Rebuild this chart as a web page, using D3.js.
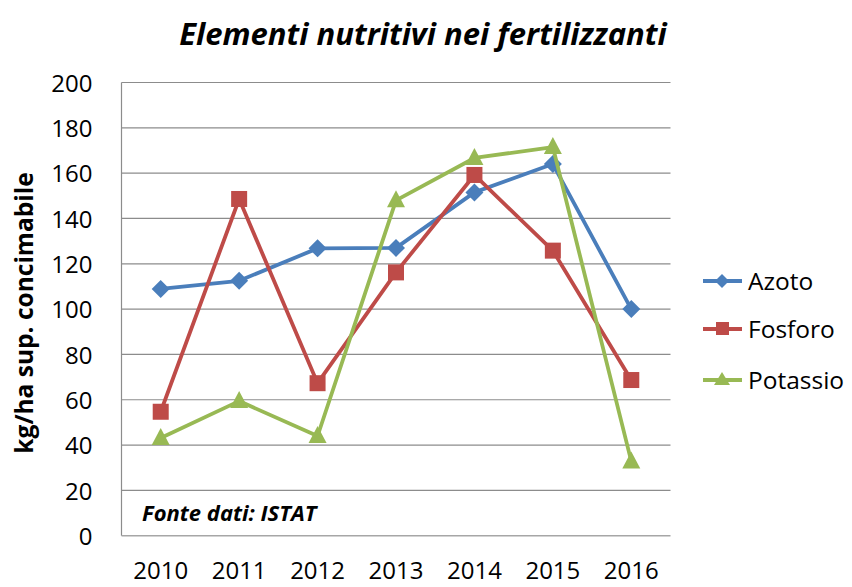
<!DOCTYPE html>
<html><head><meta charset="utf-8">
<script src="https://cdn.jsdelivr.net/npm/d3@7"></script>
<style>body{margin:0;background:#fff}svg{display:block}</style>
</head><body>
<svg id="c" width="852" height="587"></svg>
<script>
const years = ["2010","2011","2012","2013","2014","2015","2016"];
const azoto = [108.9, 112.5, 126.8, 127.0, 151.5, 164.0, 100.0];
const fosforo = [54.7, 148.6, 67.3, 116.2, 159.2, 125.8, 68.7];
const potassio = [43.1, 59.4, 44.0, 148.0, 166.7, 171.5, 32.8];
const yTicks = [0,20,40,60,80,100,120,140,160,180,200];
const seriesNames = ["Azoto","Fosforo","Potassio"];
const colors = ["#4A7EBB","#BE4B48","#98B954"];

(function(){
const font = "'Open Sans', 'Noto Sans', sans-serif";
const svg = d3.select("#c");
const pLeft = 121.5, pRight = 670.5, pTop = 82.5, pBottom = 535.7;
const x = d3.scaleBand().domain(years).range([pLeft, pRight]);
const y = d3.scaleLinear().domain([0,200]).range([pBottom, pTop]);

svg.append("g").selectAll("line").data(yTicks.filter(d=>d>0)).join("line")
  .attr("x1", pLeft).attr("x2", pRight)
  .attr("y1", d=>y(d)).attr("y2", d=>y(d))
  .attr("stroke", "#8c8c8c").attr("stroke-width", 1.2);
svg.append("line").attr("x1", pLeft).attr("x2", pLeft).attr("y1", pTop).attr("y2", pBottom)
  .attr("stroke", "#8c8c8c").attr("stroke-width", 1.2);
svg.append("line").attr("x1", pLeft).attr("x2", pRight).attr("y1", pBottom).attr("y2", pBottom)
  .attr("stroke", "#a6a6a6").attr("stroke-width", 1.5);

const yAxis = d3.axisLeft(y).tickValues(yTicks).tickSize(0).tickPadding(0);
const gy = svg.append("g").attr("transform", `translate(${pLeft-29},0)`).call(yAxis);
gy.select(".domain").remove();
gy.selectAll("text").attr("font-family", font).attr("font-size", 24).attr("fill", "#000").attr("dy", "0.36em");

const xAxis = d3.axisBottom(x).tickSize(0).tickPadding(0);
const gx = svg.append("g").attr("transform", `translate(0,579)`).call(xAxis);
gx.select(".domain").remove();
gx.selectAll("text").attr("font-family", font).attr("font-size", 24).attr("fill", "#000").attr("dy", "0");

svg.append("text").attr("x", 423).attr("y", 45).attr("text-anchor", "middle")
  .attr("font-family", font).attr("font-size", 31).attr("font-weight", "bold").attr("font-style", "italic")
  .text("Elementi nutritivi nei fertilizzanti");

svg.append("text").attr("transform", `translate(33,313) rotate(-90)`).attr("text-anchor", "middle")
  .attr("font-family", font).attr("font-size", 24.5).attr("font-weight", "bold")
  .text("kg/ha sup. concimabile");

svg.append("text").attr("x", 142).attr("y", 521)
  .attr("font-family", font).attr("font-size", 22).attr("font-weight", "bold").attr("font-style", "italic")
  .text("Fonte dati: ISTAT");

const data = [azoto, fosforo, potassio];
const cx = d => x(d) + x.bandwidth()/2;
const line = d3.line().x((d,i)=>cx(years[i])).y(d=>y(d));

function marker(g, k, px, py) {
  if (k === 0) {
    g.append("path").attr("d", `M${px},${py-9}L${px+9},${py}L${px},${py+9}L${px-9},${py}Z`).attr("fill", colors[k]);
  } else if (k === 1) {
    g.append("rect").attr("x", px-8).attr("y", py-8).attr("width", 16).attr("height", 16).attr("fill", colors[k]);
  } else {
    g.append("path").attr("d", `M${px},${py-10}L${px+9},${py+7}L${px-9},${py+7}Z`).attr("fill", colors[k]);
  }
}

data.forEach((vals, k) => {
  const g = svg.append("g");
  g.append("path").datum(vals).attr("d", line).attr("fill", "none")
    .attr("stroke", colors[k]).attr("stroke-width", 3.8).attr("stroke-linejoin", "round");
  vals.forEach((v,i) => marker(g, k, cx(years[i]), y(v)));
});

const legY = [281, 329, 380];
seriesNames.forEach((n,k) => {
  const g = svg.append("g");
  g.append("line").attr("x1", 703).attr("x2", 742).attr("y1", legY[k]).attr("y2", legY[k])
    .attr("stroke", colors[k]).attr("stroke-width", 3.8);
  if (k === 0) g.append("path").attr("d", `M722,${legY[k]-7}L729,${legY[k]}L722,${legY[k]+7}L715,${legY[k]}Z`).attr("fill", colors[k]);
  else if (k === 1) g.append("rect").attr("x", 716).attr("y", legY[k]-7).attr("width", 13).attr("height", 13).attr("fill", colors[k]);
  else g.append("path").attr("d", `M722,${legY[k]-8}L730,${legY[k]+5}L714,${legY[k]+5}Z`).attr("fill", colors[k]);
  g.append("text").attr("x", 748).attr("y", legY[k]).attr("dy", "0.36em")
    .attr("font-family", font).attr("font-size", 24.5).text(n);
});
})();
</script>
</body></html>
